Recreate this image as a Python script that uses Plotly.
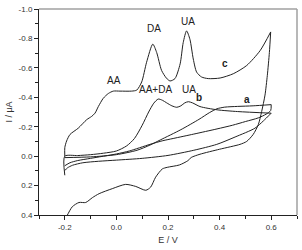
import plotly.graph_objects as go

# ---- data (E / V, I / uA) ----
c_fwd_E = [-0.2, -0.2, -0.193, -0.18, -0.148, -0.115, -0.096, -0.083, -0.07, -0.051, -0.031, -0.012,
           0.014, 0.059, 0.079, 0.098, 0.117, 0.141, 0.156, 0.175, 0.194, 0.208, 0.227, 0.247, 0.259,
           0.272, 0.285, 0.298, 0.311, 0.33, 0.356, 0.402, 0.453, 0.505, 0.557, 0.598]
c_fwd_I = [0.0, -0.058, -0.103, -0.147, -0.19, -0.248, -0.27, -0.292, -0.337, -0.393, -0.426, -0.442,
           -0.442, -0.442, -0.449, -0.504, -0.638, -0.761, -0.705, -0.583, -0.53, -0.511, -0.527, -0.627, -0.772,
           -0.851, -0.794, -0.66, -0.571, -0.538, -0.527, -0.531, -0.56, -0.616, -0.717, -0.844]
c_rev_E = [0.598, 0.593, 0.585, 0.576, 0.563, 0.55, 0.53, 0.505, 0.479, 0.4, 0.324, 0.29, 0.277, 0.244,
           0.197, 0.178, 0.152, 0.133, 0.114, 0.075, 0.036, -0.016, -0.067, -0.093, -0.119, -0.145,
           -0.171, -0.19, -0.2]
c_rev_I = [-0.844, -0.705, -0.549, -0.415, -0.303, -0.214, -0.147, -0.1, -0.08, -0.047, -0.013, 0.009, 0.031, 0.06,
           0.076, 0.087, 0.143, 0.21, 0.232, 0.206, 0.192, 0.221, 0.255, 0.282, 0.315, 0.315,
           0.344, 0.4, 0.43]

b_fwd_E = [-0.2, -0.2, -0.15, -0.1, -0.05, 0.0, 0.04, 0.07, 0.1, 0.125, 0.145, 0.162, 0.178, 0.195,
           0.215, 0.234, 0.25, 0.265, 0.279, 0.295, 0.324, 0.39, 0.47, 0.6]
b_fwd_I = [0.13, 0.0, -0.004, -0.01, -0.02, -0.035, -0.07, -0.12, -0.21, -0.3, -0.36, -0.388, -0.38, -0.362,
           -0.342, -0.332, -0.342, -0.362, -0.37, -0.362, -0.337, -0.315, -0.303, -0.292]
b_rev_E = [0.6, 0.57, 0.537, 0.46, 0.389, 0.3, 0.2, 0.1, 0.0, -0.07, -0.13, -0.17, -0.19, -0.2]
b_rev_I = [-0.292, -0.24, -0.19, -0.13, -0.08, -0.04, -0.005, 0.015, 0.027, 0.035, 0.045, 0.062, 0.08, 0.098]

a_fwd_E = [-0.2, -0.1, 0.0, 0.08, 0.13, 0.17, 0.25, 0.32, 0.36, 0.39, 0.42, 0.47, 0.53, 0.6]
a_fwd_I = [0.01, 0.005, -0.01, -0.04, -0.075, -0.11, -0.18, -0.25, -0.295, -0.322, -0.333, -0.338, -0.342, -0.35]
a_rev_E = [0.6, 0.598, 0.58, 0.55, 0.5, 0.45, 0.39, 0.3, 0.22, 0.18, 0.13, 0.05, 0.0, -0.1, -0.15, -0.18, -0.2]
a_rev_I = [-0.35, -0.31, -0.285, -0.26, -0.235, -0.21, -0.185, -0.15, -0.12, -0.105, -0.08, -0.035, -0.015, 0.015, 0.03, 0.045, 0.065]

x_ticks = [-0.2, 0.0, 0.2, 0.4, 0.6]
x_ticktext = ["-0.2", "0.0", "0.2", "0.4", "0.6"]
x_minor = [-0.3, -0.1, 0.1, 0.3, 0.5, 0.7]
y_ticks = [-1.0, -0.8, -0.6, -0.4, -0.2, 0.0, 0.2, 0.4]
y_ticktext = ["-1.0", "-0.8", "-0.6", "-0.4", "-0.2", "0.0", "0.2", "0.4"]
y_minor = [-0.9, -0.7, -0.5, -0.3, -0.1, 0.1, 0.3]

peak_labels = ["DA", "UA", "AA", "AA+DA", "UA"]
peak_E = [0.146, 0.277, -0.008, 0.152, 0.281]
peak_I = [-0.868, -0.918, -0.516, -0.455, -0.455]
curve_labels = ["c", "b", "a"]
curve_E = [0.421, 0.32, 0.505]
curve_I = [-0.627, -0.399, -0.386]

FONT = "Liberation Sans, Arial, sans-serif"
LC = "#222222"

fig = go.Figure()
for xs, ys in [(c_fwd_E, c_fwd_I), (c_rev_E, c_rev_I), (b_fwd_E, b_fwd_I), (b_rev_E, b_rev_I),
               (a_fwd_E, a_fwd_I), (a_rev_E, a_rev_I)]:
    fig.add_trace(go.Scatter(x=xs, y=ys, mode="lines",
                             line=dict(color=LC, width=1, shape="spline", smoothing=0.7),
                             showlegend=False, hoverinfo="skip"))

for t, x, y in zip(peak_labels, peak_E, peak_I):
    fig.add_annotation(x=x, y=y, text=t, showarrow=False,
                       font=dict(family=FONT, size=10, color=LC))
for t, x, y in zip(curve_labels, curve_E, curve_I):
    fig.add_annotation(x=x, y=y, text="<b>%s</b>" % t, showarrow=False,
                       font=dict(family=FONT, size=10, color=LC))

# grey top/right frame
fig.add_shape(type="line", xref="paper", yref="paper", x0=0, x1=1, y0=1, y1=1,
              line=dict(color="#a0a0a0", width=1.5))
fig.add_shape(type="line", xref="paper", yref="paper", x0=1, x1=1, y0=0, y1=1,
              line=dict(color="#a0a0a0", width=1.5))

fig.update_layout(
    width=302, height=250,
    margin=dict(l=39, r=5, t=6, b=35),
    paper_bgcolor="white", plot_bgcolor="white",
    font=dict(family=FONT, color=LC),
    xaxis=dict(range=[-0.3, 0.7], showgrid=False, zeroline=False,
               showline=True, linecolor="#222", linewidth=1,
               tickmode="array", tickvals=x_ticks, ticktext=x_ticktext,
               ticks="outside", ticklen=4, tickcolor="#222", tickwidth=1,
               tickfont=dict(size=8, family=FONT, color="#333"),
               minor=dict(tickvals=x_minor, ticks="outside", ticklen=3, tickcolor="#222"),
               title=dict(text="E / V", font=dict(size=9, family=FONT, color="#333"), standoff=6)),
    yaxis=dict(range=[0.4, -1.0], showgrid=False, zeroline=False,
               showline=True, linecolor="#222", linewidth=1,
               tickmode="array", tickvals=y_ticks, ticktext=y_ticktext,
               ticks="outside", ticklen=4, tickcolor="#222", tickwidth=1,
               tickfont=dict(size=8, family=FONT, color="#333"),
               minor=dict(tickvals=y_minor, ticks="outside", ticklen=3, tickcolor="#222"),
               title=dict(text="I / μA", font=dict(size=9, family=FONT, color="#333"), standoff=4)),
)

fig.write_html("out.html")
